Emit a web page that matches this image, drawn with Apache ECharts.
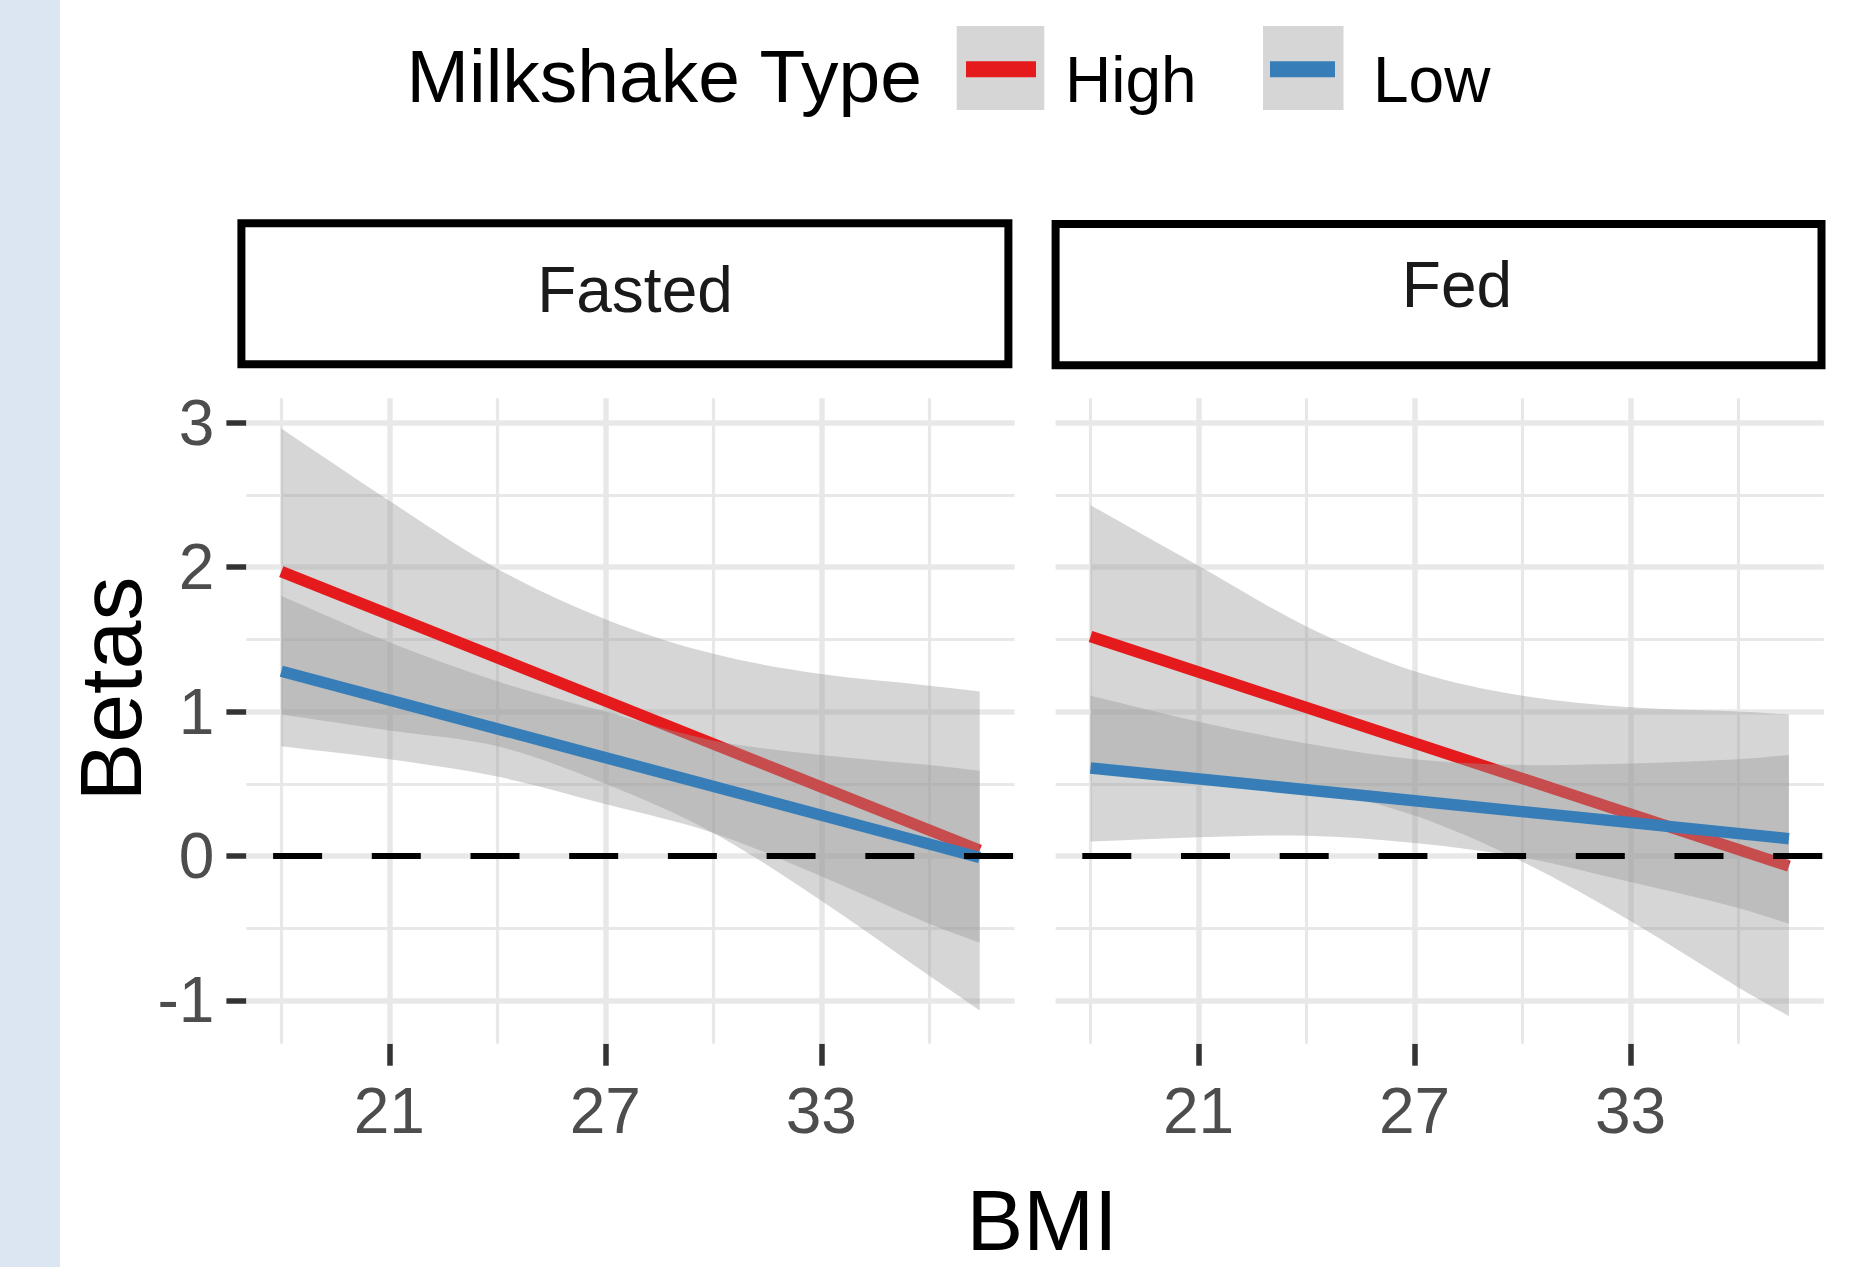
<!DOCTYPE html>
<html>
<head>
<meta charset="utf-8">
<script src="https://cdn.jsdelivr.net/npm/echarts@6/dist/echarts.min.js"></script>
<style>
html,body{margin:0;padding:0;background:#ffffff;}
#chart{width:1861px;height:1267px;}
</style>
</head>
<body>
<div id="chart"></div>
<script>
// ---------------- data ----------------
const panels = ['Fasted', 'Fed'];
const groups = ['High', 'Low'];
const bmiPoints = [18, 21, 24, 27, 30, 33, 36, 37.4];   // x positions where ribbon bounds were read
const bmiEnds = [18, 37.4];                               // extent of fitted lines

const fastedHighFit   = [1.97, 0.04];
const fastedLowFit    = [1.28, -0.01];
const fastedHighUpper = [2.96, 2.46, 1.99, 1.64, 1.40, 1.26, 1.18, 1.14];
const fastedHighLower = [0.98, 0.87, 0.76, 0.50, 0.16, -0.31, -0.83, -1.07];
const fastedLowUpper  = [1.80, 1.48, 1.21, 1.00, 0.80, 0.70, 0.63, 0.59];
const fastedLowLower  = [0.76, 0.67, 0.55, 0.36, 0.16, -0.14, -0.47, -0.60];

const fedHighFit   = [1.52, -0.07];
const fedLowFit    = [0.61, 0.12];
const fedHighUpper = [2.43, 2.01, 1.59, 1.28, 1.11, 1.03, 1.00, 0.98];
const fedHighLower = [0.61, 0.54, 0.47, 0.28, -0.04, -0.45, -0.91, -1.11];
const fedLowUpper  = [1.11, 0.93, 0.78, 0.67, 0.63, 0.64, 0.67, 0.70];
const fedLowLower  = [0.10, 0.13, 0.14, 0.09, -0.01, -0.18, -0.36, -0.47];

const xTickLabels  = [21, 27, 33];
const xMinorBreaks = [18, 24, 30, 36];
const yTickLabels  = [-1, 0, 1, 2, 3];
const yMinorBreaks = [-0.5, 0.5, 1.5, 2.5];
const xLimits = [17.03, 38.37];
const yLimits = [-1.30, 3.17];
const referenceLine = 0;

const legendTitle = 'Milkshake Type';
const xTitle = 'BMI';
const yTitle = 'Betas';

// ---------------- styles ----------------
const FONT = '"Liberation Sans", Arial, Helvetica, sans-serif';
const groupColors = { High: '#E41A1C', Low: '#377EB8' };
const RIBBON = 'rgba(153,153,153,0.4)';
const GRIDCOL = '#e8e8e8';

const panelData = {
  Fasted: {
    High: { fit: fastedHighFit, upper: fastedHighUpper, lower: fastedHighLower },
    Low:  { fit: fastedLowFit,  upper: fastedLowUpper,  lower: fastedLowLower }
  },
  Fed: {
    High: { fit: fedHighFit, upper: fedHighUpper, lower: fedHighLower },
    Low:  { fit: fedLowFit,  upper: fedLowUpper,  lower: fedLowLower }
  }
};

const gridBoxes = [
  { left: 246.4, top: 398.3, width: 768.2, height: 645.4 },
  { left: 1055.6, top: 398.3, width: 768.2, height: 645.4 }
];

// smooth (Hermite -> cubic Bezier) path through pixel points, x monotonic
function slopes(pts) {
  const n = pts.length, m = [];
  for (let i = 0; i < n; i++) {
    const a = pts[Math.max(0, i - 1)], b = pts[Math.min(n - 1, i + 1)];
    m.push((b[1] - a[1]) / (b[0] - a[0]));
  }
  return m;
}
function curveSegs(pts, m, reverse) {
  let d = '';
  const n = pts.length;
  const idx = [];
  for (let i = 0; i < n; i++) idx.push(reverse ? n - 1 - i : i);
  for (let k = 0; k < n - 1; k++) {
    const i = idx[k], j = idx[k + 1];
    const h = (pts[j][0] - pts[i][0]) / 3;
    const c1 = [pts[i][0] + h, pts[i][1] + m[i] * h];
    const c2 = [pts[j][0] - h, pts[j][1] - m[j] * h];
    d += ' C' + c1[0].toFixed(2) + ' ' + c1[1].toFixed(2) + ' ' + c2[0].toFixed(2) + ' ' + c2[1].toFixed(2) + ' ' + pts[j][0].toFixed(2) + ' ' + pts[j][1].toFixed(2);
  }
  return d;
}
function ribbonRenderer(params, api) {
  if (params.dataIndexInside !== 0) return null;
  const n = params.dataInsideLength;
  const up = [], lo = [];
  for (let i = 0; i < n; i++) {
    up.push(api.coord([api.value(0, i), api.value(2, i)]));
    lo.push(api.coord([api.value(0, i), api.value(1, i)]));
  }
  const mu = slopes(up), ml = slopes(lo);
  let d = 'M' + up[0][0].toFixed(2) + ' ' + up[0][1].toFixed(2);
  d += curveSegs(up, mu, false);
  d += ' L' + lo[n - 1][0].toFixed(2) + ' ' + lo[n - 1][1].toFixed(2);
  d += curveSegs(lo, ml, true);
  d += ' Z';
  return { type: 'path', shape: { pathData: d }, style: { fill: RIBBON }, silent: true };
}

const gridLineData = [
  ...xMinorBreaks.map(v => ({ xAxis: v, lineStyle: { width: 3.2 } })),
  ...xTickLabels.map(v => ({ xAxis: v, lineStyle: { width: 5.5 } })),
  ...yMinorBreaks.map(v => ({ yAxis: v, lineStyle: { width: 3.2 } })),
  ...yTickLabels.map(v => ({ yAxis: v, lineStyle: { width: 5.5 } }))
];

const grids = [], xAxes = [], yAxes = [], series = [];
panels.forEach((p, pi) => {
  grids.push(Object.assign({ containLabel: false }, gridBoxes[pi]));
  xAxes.push({
    type: 'value', gridIndex: pi, min: xLimits[0], max: xLimits[1],
    axisLine: { show: false, onZero: false },
    splitLine: { show: false },
    axisTick: { show: true, customValues: xTickLabels, length: 22, lineStyle: { color: '#333333', width: 5.5 } },
    axisLabel: { show: true, customValues: xTickLabels, fontSize: 64, color: '#4d4d4d', fontFamily: FONT, margin: 35 }
  });
  yAxes.push({
    type: 'value', gridIndex: pi, min: yLimits[0], max: yLimits[1],
    axisLine: { show: false, onZero: false },
    splitLine: { show: false },
    axisTick: { show: pi === 0, customValues: yTickLabels, length: 20, lineStyle: { color: '#333333', width: 5.5 } },
    axisLabel: { show: pi === 0, customValues: yTickLabels, fontSize: 64, color: '#4d4d4d', fontFamily: FONT, margin: 32 }
  });
  groups.forEach((g, gi) => {
    const d = panelData[p][g];
    series.push({
      type: 'custom', name: g + ' band', xAxisIndex: pi, yAxisIndex: pi,
      z: 2 + gi * 2, silent: true, clip: false,
      dimensions: ['bmi', 'lower', 'upper'],
      encode: { x: 0, y: [1, 2] },
      data: bmiPoints.map((x, i) => [x, d.lower[i], d.upper[i]]),
      renderItem: ribbonRenderer
    });
    const line = {
      type: 'line', name: g, xAxisIndex: pi, yAxisIndex: pi,
      z: 3 + gi * 2, silent: true, showSymbol: false, symbol: 'none',
      color: groupColors[g],
      lineStyle: { color: groupColors[g], width: 11.5, cap: 'butt' },
      data: bmiEnds.map((x, i) => [x, d.fit[i]])
    };
    if (gi === 0) {
      line.markLine = {
        silent: true, symbol: 'none', z: 1, animation: false,
        label: { show: false }, emphasis: { disabled: true },
        lineStyle: { color: GRIDCOL, type: 'solid' },
        data: gridLineData
      };
    } else {
      line.markLine = {
        silent: true, symbol: 'none', z: 8, animation: false,
        label: { show: false }, emphasis: { disabled: true },
        lineStyle: { color: '#000000', width: 6, type: [49, 49.7], dashOffset: 71.7 },
        data: [{ yAxis: referenceLine }]
      };
    }
    series.push(line);
  });
});

const legendBase = {
  orient: 'horizontal', padding: 0, itemHeight: 38,
  selectedMode: false, itemStyle: { borderWidth: 0 }
};

const option = {
  animation: false,
  backgroundColor: '#ffffff',
  grid: grids,
  xAxis: xAxes,
  yAxis: yAxes,
  legend: [
    Object.assign({}, legendBase, {
      data: [groups[0]], left: 966, top: 48.3, itemWidth: 70,
      icon: 'path://M0 0H70V16H0Z M0 37.99H0.01V38H0Z',
      textStyle: { fontSize: 64, color: '#000000', fontFamily: FONT, padding: [0, 0, 0, 24] }
    }),
    Object.assign({}, legendBase, {
      data: [groups[1]], left: 1270, top: 48.3, itemWidth: 65,
      icon: 'path://M0 0H65V16H0Z M0 37.99H0.01V38H0Z',
      textStyle: { fontSize: 64, color: '#000000', fontFamily: FONT, padding: [0, 0, 0, 33] }
    })
  ],
  graphic: [
    { type: 'rect', z: -10, silent: true, shape: { x: 0, y: 0, width: 60, height: 1267 }, style: { fill: '#dce6f2' } },
    { type: 'rect', z: -5, silent: true, shape: { x: 956.7, y: 26, width: 87.6, height: 84 }, style: { fill: '#d6d6d6' } },
    { type: 'rect', z: -5, silent: true, shape: { x: 1263, y: 26, width: 80.5, height: 84 }, style: { fill: '#d6d6d6' } },
    { type: 'text', silent: true, x: 406.5, y: 76, style: { text: legendTitle, fontSize: 75, fontFamily: FONT, fill: '#000000', align: 'left', verticalAlign: 'middle' } },
    { type: 'rect', silent: true, shape: { x: 241.4, y: 223.3, width: 767, height: 141 }, style: { fill: '#ffffff', stroke: '#000000', lineWidth: 8 } },
    { type: 'rect', silent: true, shape: { x: 1055.6, y: 224, width: 765.9, height: 141.3 }, style: { fill: '#ffffff', stroke: '#000000', lineWidth: 8 } },
    { type: 'text', silent: true, x: 635, y: 290, style: { text: panels[0], fontSize: 64, fontFamily: FONT, fill: '#1a1a1a', align: 'center', verticalAlign: 'middle' } },
    { type: 'text', silent: true, x: 1457, y: 285, style: { text: panels[1], fontSize: 64, fontFamily: FONT, fill: '#1a1a1a', align: 'center', verticalAlign: 'middle' } },
    { type: 'text', silent: true, x: 110, y: 689, rotation: Math.PI / 2, style: { text: yTitle, fontSize: 88, fontFamily: FONT, fill: '#000000', align: 'center', verticalAlign: 'middle' } },
    { type: 'text', silent: true, x: 1042, y: 1220, style: { text: xTitle, fontSize: 85, fontFamily: FONT, fill: '#000000', align: 'center', verticalAlign: 'middle' } }
  ],
  series: series
};

const chart = echarts.init(document.getElementById('chart'), null, { renderer: 'svg', width: 1861, height: 1267 });
chart.setOption(option);
</script>
</body>
</html>
